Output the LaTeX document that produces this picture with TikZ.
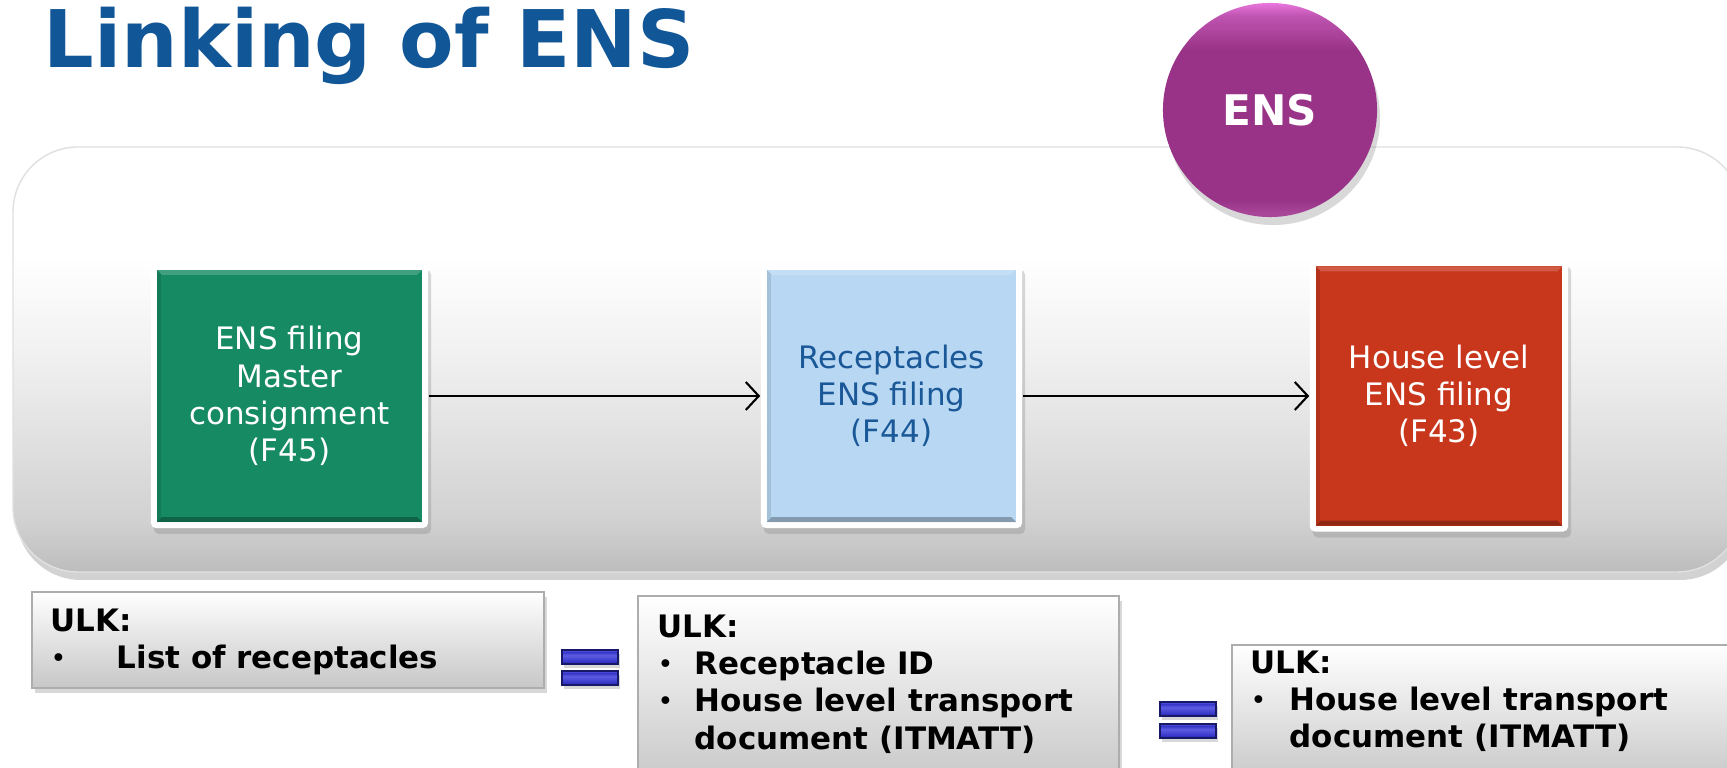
\documentclass[tikz,border=0pt]{standalone}
\usepackage{fontspec}
\setmainfont{DejaVu Sans}
\usepackage{tikz}
\usepackage{xcolor}
\usetikzlibrary{arrows.meta,shadows,shapes}

\definecolor{titleblue}{RGB}{17,86,150}
\definecolor{ensmain}{RGB}{152,51,135}
\definecolor{enspink}{RGB}{232,118,220}
\definecolor{ensrim}{RGB}{168,70,152}
\definecolor{mastergreen}{RGB}{22,138,98}
\definecolor{recepblue}{RGB}{183,215,243}
\definecolor{receptext}{RGB}{26,88,152}
\definecolor{housered}{RGB}{200,54,28}
\definecolor{eqmid}{RGB}{52,52,200}
\definecolor{eqlight}{RGB}{92,92,226}
\definecolor{eqdark}{RGB}{24,24,104}

\newcommand{\filingfont}{\fontsize{8.8pt}{10.6pt}\selectfont}
\newcommand{\ulkfont}{\fontsize{8.8pt}{10.6pt}\selectfont\bfseries}
\newcommand{\ulkdot}[1]{\makebox[#1][l]{\fontsize{7.6pt}{7.6pt}\selectfont\mdseries\raisebox{0.4pt}{\textbullet}}}

%% shadings are fitted to the path between 25bp and 75bp
\pgfdeclareverticalshading{panelshade}{100bp}{color(0bp)=(black!26); color(25bp)=(black!26); color(31bp)=(black!18); color(50bp)=(black!6); color(62bp)=(white); color(100bp)=(white)}
\pgfdeclareverticalshading{ensball}{100bp}{color(0bp)=(ensrim); color(26bp)=(ensrim); color(29bp)=(ensmain); color(64bp)=(ensmain); color(72bp)=(ensmain!50!enspink); color(75bp)=(enspink); color(100bp)=(enspink)}
\pgfdeclareverticalshading{eqshade}{100bp}{color(0bp)=(eqdark); color(25bp)=(eqdark); color(33bp)=(eqmid); color(56bp)=(eqlight); color(68bp)=(eqmid); color(75bp)=(eqlight); color(100bp)=(eqlight)}

\tikzstyle{panel}		= [rounded corners=6.5mm, shading=panelshade, draw=black!12, line width=0.4pt, drop shadow={shadow xshift=0.3mm, shadow yshift=-0.8mm, opacity=0.35}]
\tikzstyle{titletext}	= [inner sep=0pt, text=titleblue, font=\fontsize{22.6pt}{27pt}\selectfont\bfseries]
\tikzstyle{enscircle}	= [circle, minimum size=2.14cm, inner sep=0pt, shading=ensball, text=white, font=\fontsize{12pt}{14pt}\selectfont\bfseries, drop shadow={shadow xshift=0.3mm, shadow yshift=-0.8mm, opacity=0.3}]
\tikzstyle{filing}		= [rectangle, rounded corners=0.5mm, fill=white, inner sep=0pt, align=center, font=\filingfont, drop shadow={shadow xshift=0.3mm, shadow yshift=-0.6mm, opacity=0.3}]
\tikzset{bevel/.style={path picture={
	\path ([shift={(6,-6)}]path picture bounding box.south west) coordinate (isw) ([shift={(-6,6)}]path picture bounding box.north east) coordinate (ine);
	\fill[#1, sharp corners] (isw) rectangle (ine);
	\fill[black, opacity=0.28, sharp corners] (isw) -- (isw -| ine) -- ++(-5,-5) -- ([shift={(5,-5)}]isw) -- cycle;
	\fill[black, opacity=0.10, sharp corners] (isw) -- (ine -| isw) -- ++(4,4) -- ([shift={(4,-4)}]isw) -- cycle;
	\fill[white, opacity=0.18, sharp corners] (ine) -- (ine -| isw) -- ++(5,5) -- ([shift={(-5,5)}]ine) -- cycle;
}}}
\tikzstyle{ulkbox}		= [rectangle, inner sep=0pt, anchor=north west, top color=white, bottom color=black!22, draw=black!32, line width=0.5pt, drop shadow={shadow xshift=0.3mm, shadow yshift=-0.5mm, opacity=0.3}]
\tikzstyle{ulktext}	= [inner sep=0pt, align=left, anchor=north west, font=\ulkfont]
\tikzstyle{eqbar}		= [rectangle, inner sep=0pt, minimum width=5.6mm, minimum height=1.4mm, shading=eqshade, draw=eqdark, line width=0.4pt, drop shadow={shadow xshift=0.2mm, shadow yshift=-0.4mm, opacity=0.3}]
\tikzstyle{link}		= [draw, line width=0.6pt, -{Straight Barb[length=1.3mm, width=2.8mm]}, black]

\begin{document}
\begin{tikzpicture}[x=0.01cm, y=-0.01cm]
	
	\useasboundingbox (0,0) rectangle (1727,768);
	\clip (0,0) rectangle (1727,768);
	\fill[white] (0,0) rectangle (1727,768);
	
	%%%%% Title and back panel
	\node[titletext, anchor=base west] (title) at (43,68) {Linking of ENS};
	\path[panel] (13,147) rectangle (1742,572);
	\node[enscircle] (ens) at (1270,110) {ENS};
	
	%%%%% Filings
	\node[filing, bevel=mastergreen, text=white, minimum width=2.77cm, minimum height=2.64cm] (master) at (289.5,396) {ENS filing\\Master\\consignment\\(F45)};
	\node[filing, bevel=recepblue, text=receptext, minimum width=2.61cm, minimum height=2.64cm] (recep) at (891.5,396) {Receptacles\\ENS filing\\(F44)};
	\node[filing, bevel=housered, text=white, minimum width=2.58cm, minimum height=2.71cm] (house) at (1439,396) {House level\\ENS filing\\(F43)};
	
	\foreach \source/ \dest in {master/recep,recep/house}	\path[link] (\source) -- (\dest) ;
	
	%%%%% ULK boxes
	\node[ulkbox, minimum width=5.12cm, minimum height=0.96cm] (ulk1) at (31,591) {};
	\node[ulkbox, minimum width=4.81cm, minimum height=1.9cm] (ulk2) at (637,595) {};
	\node[ulkbox, minimum width=5.3cm, minimum height=1.4cm] (ulk3) at (1231,644) {};
	
	\node[ulktext] (ulk1t) at (50,608) {ULK:\\\ulkdot{6.6mm}List of receptacles};
	\node[ulktext] (ulk2t) at (657,614) {ULK:\\\ulkdot{3.7mm}Receptacle ID\\\ulkdot{3.7mm}House level transport\\\hspace*{3.7mm}document (ITMATT)};
	\node[ulktext] (ulk3t) at (1250,650) {ULK:\\\ulkdot{3.9mm}House level transport\\\hspace*{3.9mm}document (ITMATT)};
	
	%%%%% Equal signs
	\foreach \pos/\name in {{(590,657)/eqa1}, {(590,678)/eqa2}, {(1188,709)/eqb1}, {(1188,731)/eqb2}}
	\node[eqbar] (\name) at \pos {};
	
\end{tikzpicture}
\end{document}
